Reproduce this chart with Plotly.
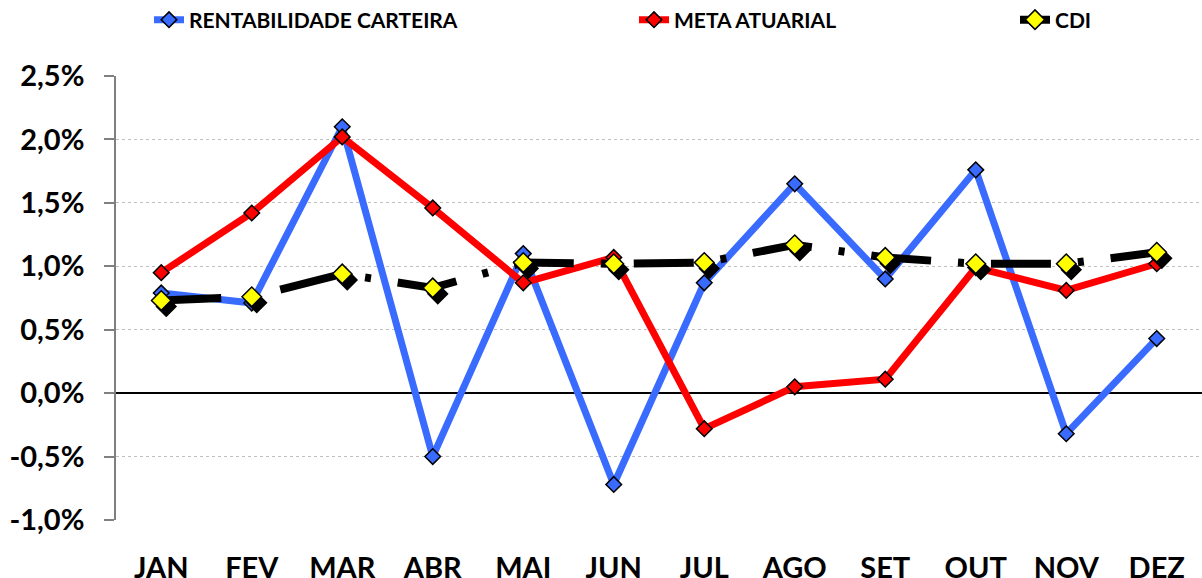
import plotly.graph_objects as go

# Monthly returns (%), portfolio vs actuarial target vs CDI
months = ["JAN", "FEV", "MAR", "ABR", "MAI", "JUN", "JUL", "AGO", "SET", "OUT", "NOV", "DEZ"]
rentabilidade = [0.79, 0.71, 2.10, -0.50, 1.10, -0.72, 0.87, 1.65, 0.90, 1.76, -0.32, 0.43]
meta_atuarial = [0.95, 1.42, 2.02, 1.46, 0.87, 1.07, -0.28, 0.05, 0.11, 0.99, 0.81, 1.02]
cdi = [0.73, 0.76, 0.94, 0.83, 1.03, 1.02, 1.03, 1.17, 1.07, 1.02, 1.02, 1.11]
y_ticks = [-1.0, -0.5, 0.0, 0.5, 1.0, 1.5, 2.0, 2.5]
y_tick_labels = [f"{v:.1f}%".replace(".", ",") for v in y_ticks]

idx = list(range(len(months)))
X_RANGE = [-0.5, len(months) - 0.5]
Y_RANGE = [-1.0, 2.5]

W, H = 1202, 578
M_L, M_R, M_T, M_B = 116, 0, 76, 58
plot_w = W - M_L - M_R
plot_h = H - M_T - M_B

# shadow offset for the CDI markers, in pixels -> data units
SH_DX, SH_DY = 5, 6
dx = SH_DX * (X_RANGE[1] - X_RANGE[0]) / plot_w
dy = SH_DY * (Y_RANGE[1] - Y_RANGE[0]) / plot_h

FONT = "Lato"
BLUE = "#3A6BFF"
RED = "#FF0000"

fig = go.Figure()

fig.add_trace(go.Scatter(
    x=idx, y=rentabilidade, name="RENTABILIDADE CARTEIRA", mode="lines+markers",
    line=dict(color=BLUE, width=7),
    marker=dict(symbol="diamond", size=12, color=BLUE, line=dict(color="black", width=1.5)),
    legend="legend",
))
fig.add_trace(go.Scatter(
    x=idx, y=meta_atuarial, name="META ATUARIAL", mode="lines+markers",
    line=dict(color=RED, width=7),
    marker=dict(symbol="diamond", size=12, color=RED, line=dict(color="black", width=1.5)),
    legend="legend2",
))
# drop shadow of the CDI markers (drawn on a slightly shifted axis pair)
fig.add_trace(go.Scatter(
    x=idx, y=cdi, mode="markers", showlegend=False, hoverinfo="skip",
    marker=dict(symbol="diamond", size=15, color="black", line=dict(color="black", width=1.5)),
    xaxis="x2", yaxis="y2",
))
fig.add_trace(go.Scatter(
    x=idx, y=cdi, name="CDI", mode="lines+markers",
    line=dict(color="black", width=8, dash="60px,27px,6px,27px"),
    marker=dict(symbol="diamond", size=15, color="#FFFF00", line=dict(color="black", width=1.5)),
    xaxis="x3", yaxis="y3", legend="legend3",
))

axis_font = dict(family=FONT, size=29, color="black", weight=700)
legend_font = dict(family=FONT, size=21, color="black", weight=700)

zero_pos = (0 - Y_RANGE[0]) / (Y_RANGE[1] - Y_RANGE[0])
legend_y = 1 + (M_T - 20) / plot_h

fig.update_layout(
    width=W, height=H,
    margin=dict(l=M_L, r=M_R, t=M_T, b=M_B, autoexpand=False),
    paper_bgcolor="white", plot_bgcolor="white",
    xaxis=dict(
        range=X_RANGE, tickvals=idx, ticktext=months, tickfont=axis_font,
        showgrid=False, zeroline=False, showline=False, automargin=False,
        ticks="outside", ticklen=22, tickcolor="rgba(0,0,0,0)",
    ),
    yaxis=dict(
        range=Y_RANGE, tickvals=y_ticks, ticktext=y_tick_labels,
        tickfont=axis_font, ticklabelstandoff=14, automargin=False,
        showgrid=True, gridcolor="#BFBFBF", griddash="dot", gridwidth=1,
        zeroline=True, zerolinecolor="black", zerolinewidth=1.5,
        showline=True, linecolor="#808080", linewidth=1.5,
        ticks="outside", ticklen=10, tickcolor="#808080", tickwidth=1.5,
    ),
    xaxis2=dict(range=[X_RANGE[0] - dx, X_RANGE[1] - dx], overlaying="x", visible=False),
    yaxis2=dict(range=[Y_RANGE[0] + dy, Y_RANGE[1] + dy], overlaying="y", visible=False),
    xaxis3=dict(range=X_RANGE, overlaying="x", visible=False),
    yaxis3=dict(range=Y_RANGE, overlaying="y", visible=False),
    # category separators hanging from the zero line
    xaxis4=dict(
        range=X_RANGE, overlaying="x", anchor="free", position=zero_pos,
        tickvals=[i - 0.5 for i in range(len(months) + 1)], showticklabels=False,
        ticks="outside", ticklen=10, tickcolor="black", tickwidth=1.5,
        showline=True, linecolor="black", linewidth=1.5, showgrid=False, zeroline=False,
    ),
    legend=dict(orientation="h", x=(149 - M_L) / plot_w, y=legend_y,
                xanchor="left", yanchor="middle", font=legend_font, bgcolor="rgba(0,0,0,0)"),
    legend2=dict(orientation="h", x=(634 - M_L) / plot_w, y=legend_y,
                 xanchor="left", yanchor="middle", font=legend_font, bgcolor="rgba(0,0,0,0)"),
    legend3=dict(orientation="h", x=(1015 - M_L) / plot_w, y=legend_y,
                 xanchor="left", yanchor="middle", font=legend_font, bgcolor="rgba(0,0,0,0)"),
)

fig.write_html("out.html")
